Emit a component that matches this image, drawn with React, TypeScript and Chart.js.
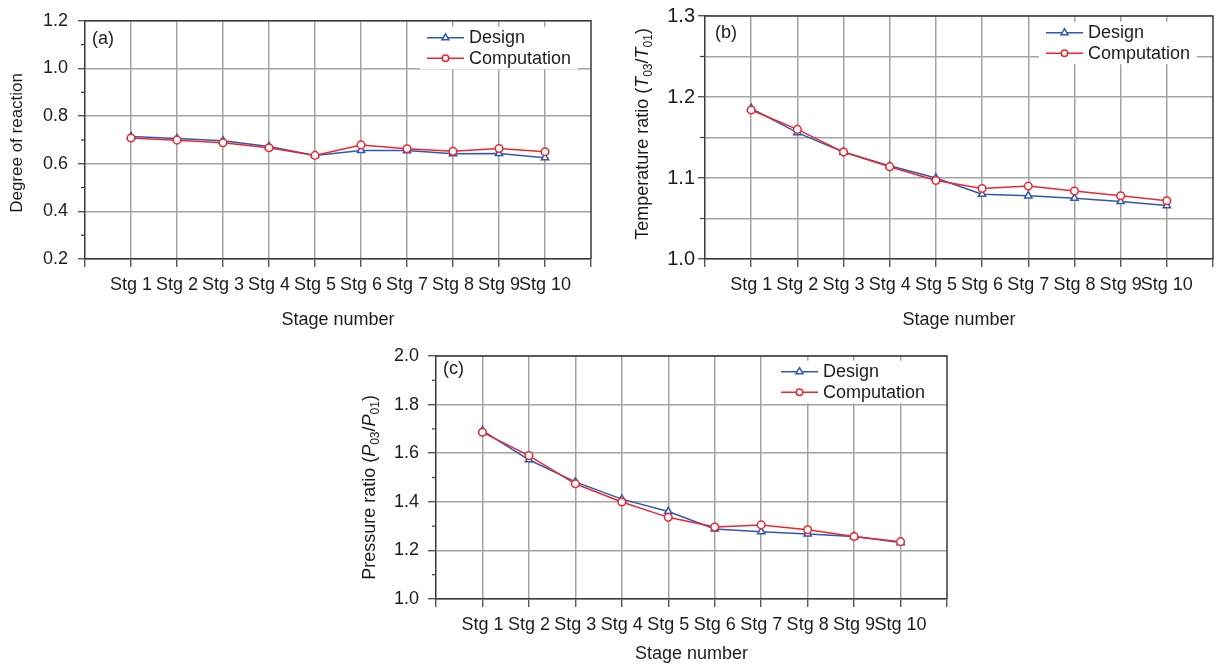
import React, { useEffect, useRef } from 'react';
import { Chart, registerables } from 'chart.js';

Chart.register(...registerables);

const FONT = '"Liberation Sans", Arial, Helvetica, sans-serif';

// ---------- data ----------
const stageLabels = ['Stg 1', 'Stg 2', 'Stg 3', 'Stg 4', 'Stg 5', 'Stg 6', 'Stg 7', 'Stg 8', 'Stg 9', 'Stg 10'];
const seriesNames = ['Design', 'Computation'];
const xAxisTitle = 'Stage number';
const panelTags = ['(a)', '(b)', '(c)'];

const reactionDesign = [0.714, 0.706, 0.696, 0.672, 0.635, 0.656, 0.655, 0.642, 0.643, 0.625];
const reactionComputation = [0.708, 0.699, 0.688, 0.667, 0.635, 0.679, 0.663, 0.652, 0.664, 0.650];

const temperatureDesign = [1.186, 1.156, 1.132, 1.115, 1.100, 1.080, 1.078, 1.075, 1.071, 1.066];
const temperatureComputation = [1.184, 1.160, 1.132, 1.114, 1.097, 1.087, 1.090, 1.084, 1.078, 1.072];

const pressureDesign = [1.693, 1.573, 1.482, 1.411, 1.360, 1.288, 1.277, 1.268, 1.257, 1.232];
const pressureComputation = [1.686, 1.590, 1.474, 1.399, 1.336, 1.296, 1.305, 1.285, 1.257, 1.236];

type Seg = { text: string; italic?: boolean; sub?: boolean };
const reactionTitle: Seg[] = [{ text: 'Degree of reaction' }];
const temperatureTitle: Seg[] = [
  { text: 'Temperature ratio (' }, { text: 'T', italic: true }, { text: '03', sub: true },
  { text: '/' }, { text: 'T', italic: true }, { text: '01', sub: true }, { text: ')' },
];
const pressureTitle: Seg[] = [
  { text: 'Pressure ratio (' }, { text: 'P', italic: true }, { text: '03', sub: true },
  { text: '/' }, { text: 'P', italic: true }, { text: '01', sub: true }, { text: ')' },
];

// ---------- style ----------
const BLUE = '#2f59b6';
const RED = '#ee262d';
const GRID = '#a3a3a3';
const AXIS = '#3a3a3a';
const TEXT = '#1c1c1c';
const CLEAR = 'rgba(0,0,0,0)';

const isMult = (v: number, s: number) => Math.abs(v / s - Math.round(v / s)) < 1e-6;

function drawMarker(ctx: CanvasRenderingContext2D, style: string, x: number, y: number, r: number, color: string) {
  ctx.save();
  ctx.beginPath();
  if (style === 'triangle') {
    ctx.moveTo(x, y - r);
    ctx.lineTo(x + r * 0.866, y + r * 0.5);
    ctx.lineTo(x - r * 0.866, y + r * 0.5);
    ctx.closePath();
  } else {
    ctx.arc(x, y, r, 0, Math.PI * 2);
  }
  ctx.fillStyle = '#fff';
  ctx.fill();
  ctx.lineWidth = 1.5;
  ctx.strokeStyle = color;
  ctx.stroke();
  ctx.restore();
}

const decorPlugin = {
  id: 'decor',
  afterDatasetsDraw(chart: any, _args: any, o: any) {
    const ctx: CanvasRenderingContext2D = chart.ctx;
    const a = chart.chartArea;
    ctx.save();

    // frame: top + right
    ctx.strokeStyle = AXIS;
    ctx.lineWidth = 1.5;
    ctx.beginPath();
    ctx.moveTo(a.left, a.top);
    ctx.lineTo(a.right, a.top);
    ctx.lineTo(a.right, a.bottom);
    ctx.stroke();

    // minor ticks on y axis (outward, shorter)
    const ys = chart.scales.y;
    ctx.lineWidth = 1.2;
    ys.ticks.forEach((t: any) => {
      if (!isMult(t.value, o.labelStep)) {
        const py = ys.getPixelForValue(t.value);
        ctx.beginPath();
        ctx.moveTo(a.left - o.minorLen, py);
        ctx.lineTo(a.left, py);
        ctx.stroke();
      }
    });

    // panel tag
    ctx.fillStyle = TEXT;
    ctx.font = `18px ${FONT}`;
    ctx.textBaseline = 'middle';
    ctx.textAlign = 'left';
    ctx.fillText(o.tag, a.left + o.tagDx, a.top + o.tagDy);

    // legend
    const lx = a.right - o.legFromRight;
    const ly = a.top + o.legFromTop;
    const gap = 20.5;
    const n = chart.data.datasets.length;
    ctx.fillStyle = '#fff';
    ctx.fillRect(lx - 7, ly - 11, 158, gap * (n - 1) + 22);
    chart.data.datasets.forEach((ds: any, i: number) => {
      const y = ly + i * gap;
      ctx.strokeStyle = ds.borderColor;
      ctx.lineWidth = 1.5;
      ctx.beginPath();
      ctx.moveTo(lx, y);
      ctx.lineTo(lx + 37, y);
      ctx.stroke();
      drawMarker(ctx, ds.pointStyle, lx + 18.5, y, ds.pointStyle === 'triangle' ? 4 : 3.2, ds.borderColor);
      ctx.fillStyle = TEXT;
      ctx.font = `18px ${FONT}`;
      ctx.textBaseline = 'middle';
      ctx.textAlign = 'left';
      ctx.fillText(ds.label, lx + 42, y + 0.5);
    });

    // y-axis title (rich text, rotated)
    const size = o.titleSize;
    const segs: Seg[] = o.title;
    const fontOf = (s: Seg) => `${s.italic ? 'italic ' : ''}${s.sub ? Math.round(size * 0.68) : size}px ${FONT}`;
    let total = 0;
    const widths = segs.map((s) => {
      ctx.font = fontOf(s);
      const w = ctx.measureText(s.text).width;
      total += w;
      return w;
    });
    const cx = a.left - o.titleDx;
    const cy = (a.top + a.bottom) / 2 + o.titleDy;
    ctx.translate(cx, cy);
    ctx.rotate(-Math.PI / 2);
    ctx.fillStyle = TEXT;
    ctx.textBaseline = 'alphabetic';
    ctx.textAlign = 'left';
    let x = -total / 2;
    const base = size * 0.255;
    segs.forEach((s, i) => {
      ctx.font = fontOf(s);
      ctx.fillText(s.text, x, s.sub ? base + size * 0.25 : base);
      x += widths[i];
    });
    ctx.restore();
  },
};

type Panel = {
  left: number; top: number; w: number; h: number;
  padTop: number; padRight: number; yWidth: number; xHeight: number; xTitlePad: number;
  yMin: number; yMax: number; step: number; labelStep: number; gridStep: number;
  yFont: number; yTickLen: number; yPad: number; minorLen: number;
  design: number[]; computation: number[];
  tag: string; tagDx: number; tagDy: number;
  legFromRight: number; legFromTop: number;
  title: Seg[]; titleSize: number; titleDx: number; titleDy: number;
};

const panels: Panel[] = [
  {
    left: 0, top: 0, w: 610, h: 335, padTop: 16, padRight: 19, yWidth: 85, xHeight: 76, xTitlePad: 4.2,
    yMin: 0.2, yMax: 1.2, step: 0.1, labelStep: 0.2, gridStep: 0.2,
    yFont: 18, yTickLen: 7, yPad: 10, minorLen: 4,
    design: reactionDesign, computation: reactionComputation,
    tag: panelTags[0], tagDx: 7, tagDy: 18, legFromRight: 164, legFromTop: 17,
    title: reactionTitle, titleSize: 17, titleDx: 67.5, titleDy: 3,
  },
  {
    left: 610, top: 0, w: 610, h: 335, padTop: 16, padRight: 4, yWidth: 95, xHeight: 76, xTitlePad: 4.2,
    yMin: 1.0, yMax: 1.3, step: 0.05, labelStep: 0.1, gridStep: 0.05,
    yFont: 20, yTickLen: 7, yPad: 3, minorLen: 5,
    design: temperatureDesign, computation: temperatureComputation,
    tag: panelTags[1], tagDx: 10, tagDy: 17, legFromRight: 167, legFromTop: 16.7,
    title: temperatureTitle, titleSize: 18, titleDx: 61.7, titleDy: -3.5,
  },
  {
    left: 330, top: 335, w: 640, h: 333, padTop: 21, padRight: 23, yWidth: 106, xHeight: 69, xTitlePad: 3.2,
    yMin: 1.0, yMax: 2.0, step: 0.1, labelStep: 0.2, gridStep: 0.2,
    yFont: 18, yTickLen: 8, yPad: 9, minorLen: 4,
    design: pressureDesign, computation: pressureComputation,
    tag: panelTags[2], tagDx: 7, tagDy: 13, legFromRight: 166, legFromTop: 15.7,
    title: pressureTitle, titleSize: 18, titleDx: 66, titleDy: 10,
  },
];

function buildConfig(p: Panel): any {
  const toPoints = (vals: number[]) => vals.map((v, i) => ({ x: i + 1, y: v }));
  return {
    type: 'line',
    data: {
      datasets: [
        {
          label: seriesNames[0], data: toPoints(p.design), borderColor: BLUE, borderWidth: 1.5,
          pointStyle: 'triangle', pointRadius: 4.2, pointBorderWidth: 1.5, pointBackgroundColor: '#fff',
          pointBorderColor: BLUE, tension: 0, order: 2,
        },
        {
          label: seriesNames[1], data: toPoints(p.computation), borderColor: RED, borderWidth: 1.5,
          pointStyle: 'circle', pointRadius: 3.8, pointBorderWidth: 1.5, pointBackgroundColor: '#fff',
          pointBorderColor: RED, tension: 0, order: 1,
        },
      ],
    },
    options: {
      responsive: false,
      maintainAspectRatio: false,
      animation: false,
      events: [],
      layout: { padding: { top: p.padTop, right: p.padRight, left: 0, bottom: 0 } },
      plugins: {
        legend: { display: false },
        tooltip: { enabled: false },
        decor: {
          labelStep: p.labelStep, minorLen: p.minorLen, tag: p.tag, tagDx: p.tagDx, tagDy: p.tagDy,
          legFromRight: p.legFromRight, legFromTop: p.legFromTop,
          title: p.title, titleSize: p.titleSize, titleDx: p.titleDx, titleDy: p.titleDy,
        },
      },
      scales: {
        x: {
          type: 'linear',
          min: 0,
          max: stageLabels.length + 1,
          afterFit: (s: any) => { s.height = p.xHeight; },
          ticks: {
            stepSize: 1, autoSkip: false, maxRotation: 0, minRotation: 0, maxTicksLimit: 100,
            padding: 7, color: TEXT, font: { family: FONT, size: 18 },
            callback: (v: number) => stageLabels[v - 1] ?? '',
          },
          grid: {
            color: (c: any) => (c.tick && c.tick.value >= 1 && c.tick.value <= stageLabels.length ? GRID : CLEAR),
            lineWidth: 1.5, tickColor: AXIS, tickLength: 8, tickWidth: 1.2,
          },
          border: { color: AXIS, width: 1.5 },
          title: {
            display: true, text: xAxisTitle, color: TEXT, font: { family: FONT, size: 18 },
            padding: { top: 0, bottom: p.xTitlePad },
          },
        },
        y: {
          type: 'linear',
          min: p.yMin,
          max: p.yMax,
          afterFit: (s: any) => { s.width = p.yWidth; },
          ticks: {
            stepSize: p.step, autoSkip: false, maxTicksLimit: 100, padding: p.yPad, color: TEXT,
            font: { family: FONT, size: p.yFont },
            callback: (v: number) => (isMult(v, p.labelStep) ? Number(v).toFixed(1) : ''),
          },
          grid: {
            color: (c: any) => (c.tick && isMult(c.tick.value, p.gridStep) ? GRID : CLEAR),
            lineWidth: 1.5,
            tickColor: (c: any) => (c.tick && isMult(c.tick.value, p.labelStep) ? AXIS : CLEAR),
            tickLength: p.yTickLen, tickWidth: 1.2,
          },
          border: { color: AXIS, width: 1.5 },
        },
      },
    },
    plugins: [decorPlugin],
  };
}

function PanelChart({ p }: { p: Panel }) {
  const ref = useRef<HTMLCanvasElement | null>(null);
  useEffect(() => {
    if (!ref.current) return;
    const chart = new Chart(ref.current, buildConfig(p));
    return () => chart.destroy();
  }, [p]);
  return (
    <canvas
      ref={ref}
      width={p.w}
      height={p.h}
      style={{ position: 'absolute', left: p.left, top: p.top, width: p.w, height: p.h }}
    />
  );
}

export default function App() {
  return (
    <div style={{ position: 'absolute', left: 0, top: 0, width: 1220, height: 668, background: '#fff', overflow: 'hidden' }}>
      {panels.map((p, i) => (
        <PanelChart key={i} p={p} />
      ))}
    </div>
  );
}
